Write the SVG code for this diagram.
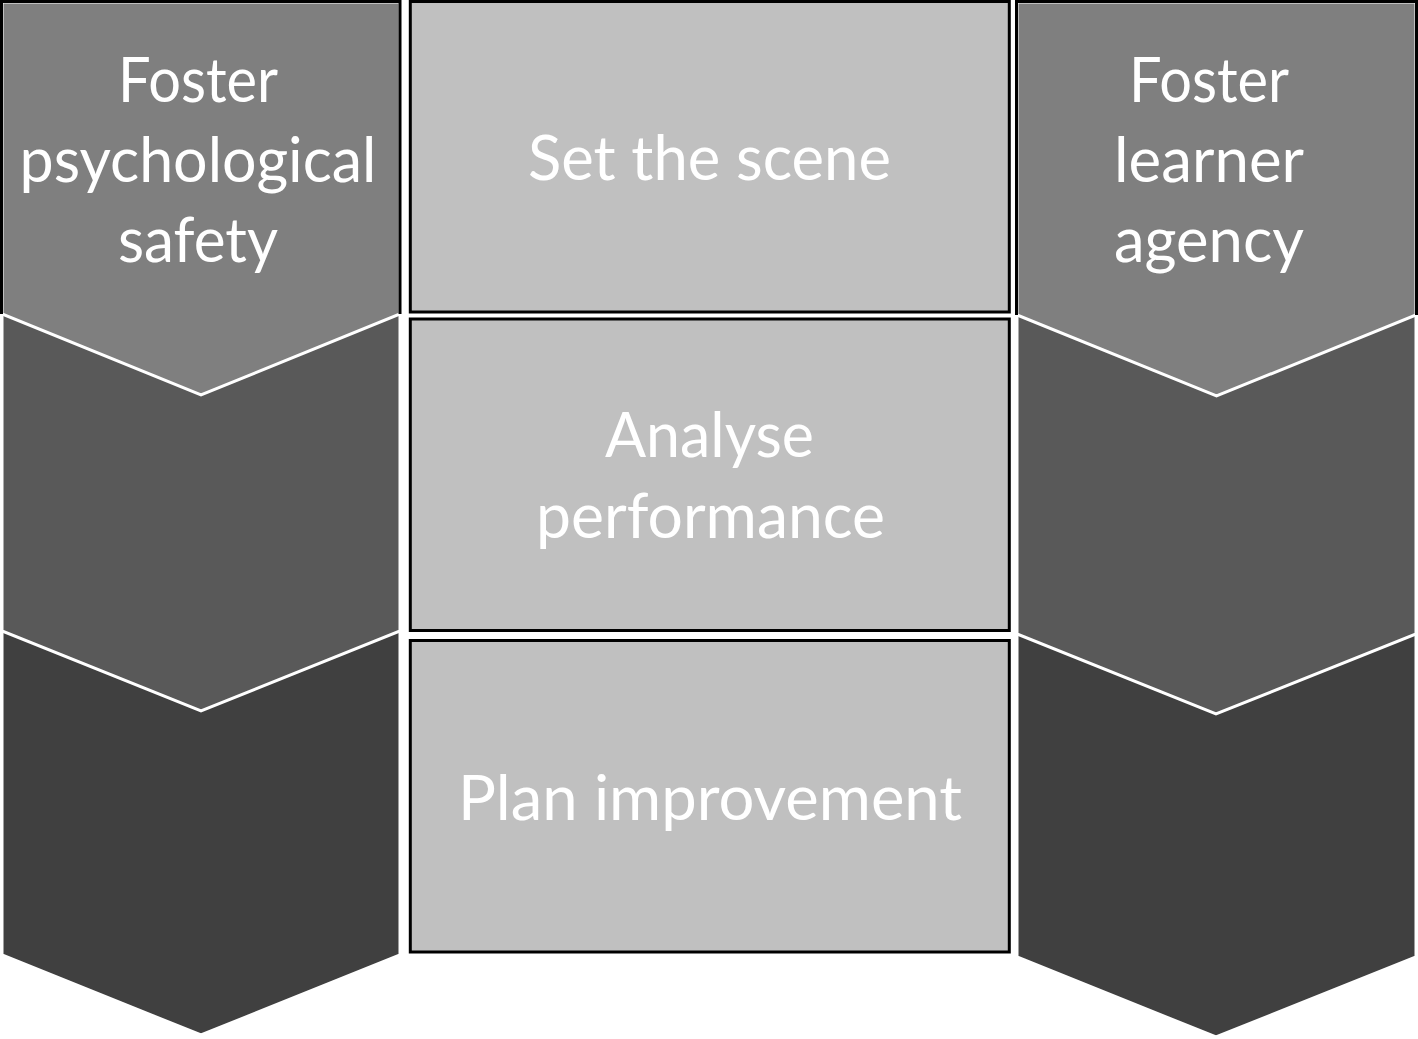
<svg xmlns="http://www.w3.org/2000/svg" width="1418" height="1039" viewBox="0 0 1418 1039">
<style>
.chev{stroke:#ffffff;stroke-width:3;stroke-linejoin:miter}
.c1{fill:#7f7f7f}.c2{fill:#595959}.c3{fill:#404040}
.frame{fill:none;stroke:#000000;stroke-width:3}
.box{fill:#c0c0c0;stroke:#000000;stroke-width:3}
.t{font-family:Lato,"Open Sans","Liberation Sans",sans-serif;font-size:61px;fill:#ffffff;text-anchor:middle}
</style>
<rect width="1418" height="1039" fill="#ffffff"/>
<g id="left-column">
  <polygon class="chev c3" points="2,631 400,631 400,955 201,1035 2,955"/>
  <polygon class="chev c2" points="2,314 400,314 400,631 201,711 2,631"/>
  <polygon class="chev c1" points="2,2 400,2 400,314 201,395 2,314"/>
  <path class="frame" d="M1.5,314 V1.5 H400 V314"/>
  <text class="t" x="198" y="102" textLength="160" lengthAdjust="spacingAndGlyphs">Foster</text>
  <text class="t" x="198" y="182" textLength="357" lengthAdjust="spacingAndGlyphs">psychological</text>
  <text class="t" x="198" y="262" textLength="160" lengthAdjust="spacingAndGlyphs">safety</text>
</g>
<g id="set-the-scene">
  <rect class="box" x="410.3" y="1.5" width="599" height="310.5"/>
  <text class="t" x="709.5" y="180" textLength="363" lengthAdjust="spacingAndGlyphs">Set the scene</text>
</g>
<g id="analyse-performance">
  <rect class="box" x="410.3" y="319" width="599" height="311.5"/>
  <text class="t" x="709.5" y="457" textLength="209" lengthAdjust="spacingAndGlyphs">Analyse</text>
  <text class="t" x="710.5" y="537.5" textLength="349" lengthAdjust="spacingAndGlyphs">performance</text>
</g>
<g id="plan-improvement">
  <rect class="box" x="410.3" y="640.5" width="599" height="311.5"/>
  <text class="t" x="710" y="820" textLength="504" lengthAdjust="spacingAndGlyphs">Plan improvement</text>
</g>
<g id="right-column">
  <polygon class="chev c3" points="1017,634 1416,634 1416,957 1216,1037 1017,957"/>
  <polygon class="chev c2" points="1017,315 1416,315 1416,634 1216,714 1017,634"/>
  <polygon class="chev c1" points="1017,2 1416,2 1416,315 1216.5,396 1017,315"/>
  <path class="frame" d="M1016.5,315 V1.5 H1416.5 V315"/>
  <text class="t" x="1209" y="102" textLength="160" lengthAdjust="spacingAndGlyphs">Foster</text>
  <text class="t" x="1209" y="182" textLength="190" lengthAdjust="spacingAndGlyphs">learner</text>
  <text class="t" x="1209" y="262" textLength="190" lengthAdjust="spacingAndGlyphs">agency</text>
</g>
<g id="connectors"/>
</svg>
